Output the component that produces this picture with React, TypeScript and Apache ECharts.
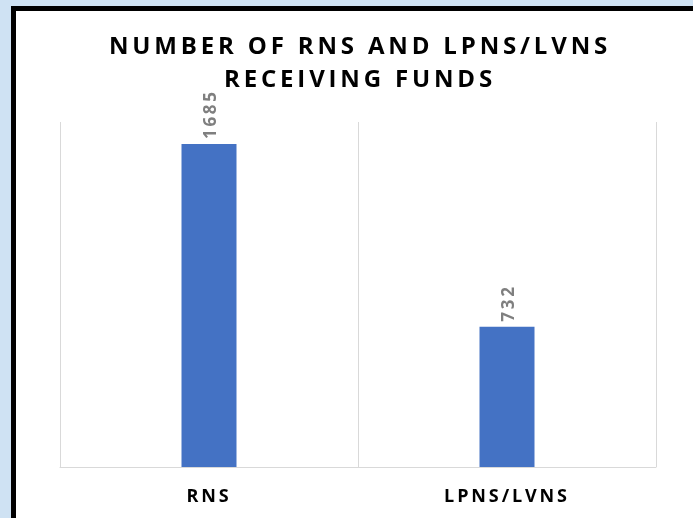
import React, { useEffect, useRef } from "react";
import * as echarts from "echarts";

const categories = ["RNS", "LPNS/LVNS"];
const values = [1685, 732];
const titleText = "NUMBER OF RNS AND LPNS/LVNS\nRECEIVING FUNDS";

export default function App() {
  const ref = useRef<HTMLDivElement>(null);
  useEffect(() => {
    const chart = echarts.init(ref.current!, undefined, { renderer: "svg" });
    chart.setOption({
      animation: false,
      graphic: [
        { type: "rect", z: -10, shape: { x: 0, y: 0, width: 693, height: 518 }, style: { fill: "#cfe2f3" } },
        { type: "rect", z: -9, shape: { x: 11, y: 6, width: 690, height: 520 }, style: { fill: "#000000" } },
        { type: "rect", z: -8, shape: { x: 16, y: 11, width: 690, height: 520 }, style: { fill: "#ffffff" } },
      ],
      title: {
        text: titleText,
        left: 355,
        top: 23,
        textAlign: "center",
        textStyle: {
          fontFamily: "Open Sans",
          fontWeight: "bold",
          fontSize: 24,
          lineHeight: 33,
          color: "#000000",
        },
      },
      grid: { left: 60, right: 37, top: 122, bottom: 51 },
      xAxis: {
        type: "category",
        data: categories,
        axisLine: { lineStyle: { color: "#d9d9d9", width: 1 } },
        axisTick: { show: false },
        splitLine: { show: true, lineStyle: { color: "#d9d9d9", width: 1 } },
        axisLabel: {
          fontFamily: "Open Sans",
          fontWeight: "bold",
          fontSize: 18,
          color: "#000000",
          margin: 19,
        },
      },
      yAxis: {
        type: "value",
        min: 0,
        max: 1800,
        show: false,
        splitLine: { show: false },
      },
      series: [
        {
          type: "bar",
          data: values,
          barWidth: 55,
          itemStyle: { color: "#4472c4" },
          label: {
            show: true,
            position: "top",
            rotate: 90,
            align: "left",
            verticalAlign: "middle",
            distance: 5,
            fontFamily: "Open Sans",
            fontWeight: "bold",
            fontSize: 17,
            color: "#7f7f7f",
          },
        },
      ],
    });
    return () => chart.dispose();
  }, []);
  return (
    <>
      <style>{"#chartbox svg text { letter-spacing: 0.16em; }"}</style>
      <div
        id="chartbox"
        ref={ref}
        style={{ position: "fixed", left: 0, top: 0, width: 693, height: 518 }}
      />
    </>
  );
}
